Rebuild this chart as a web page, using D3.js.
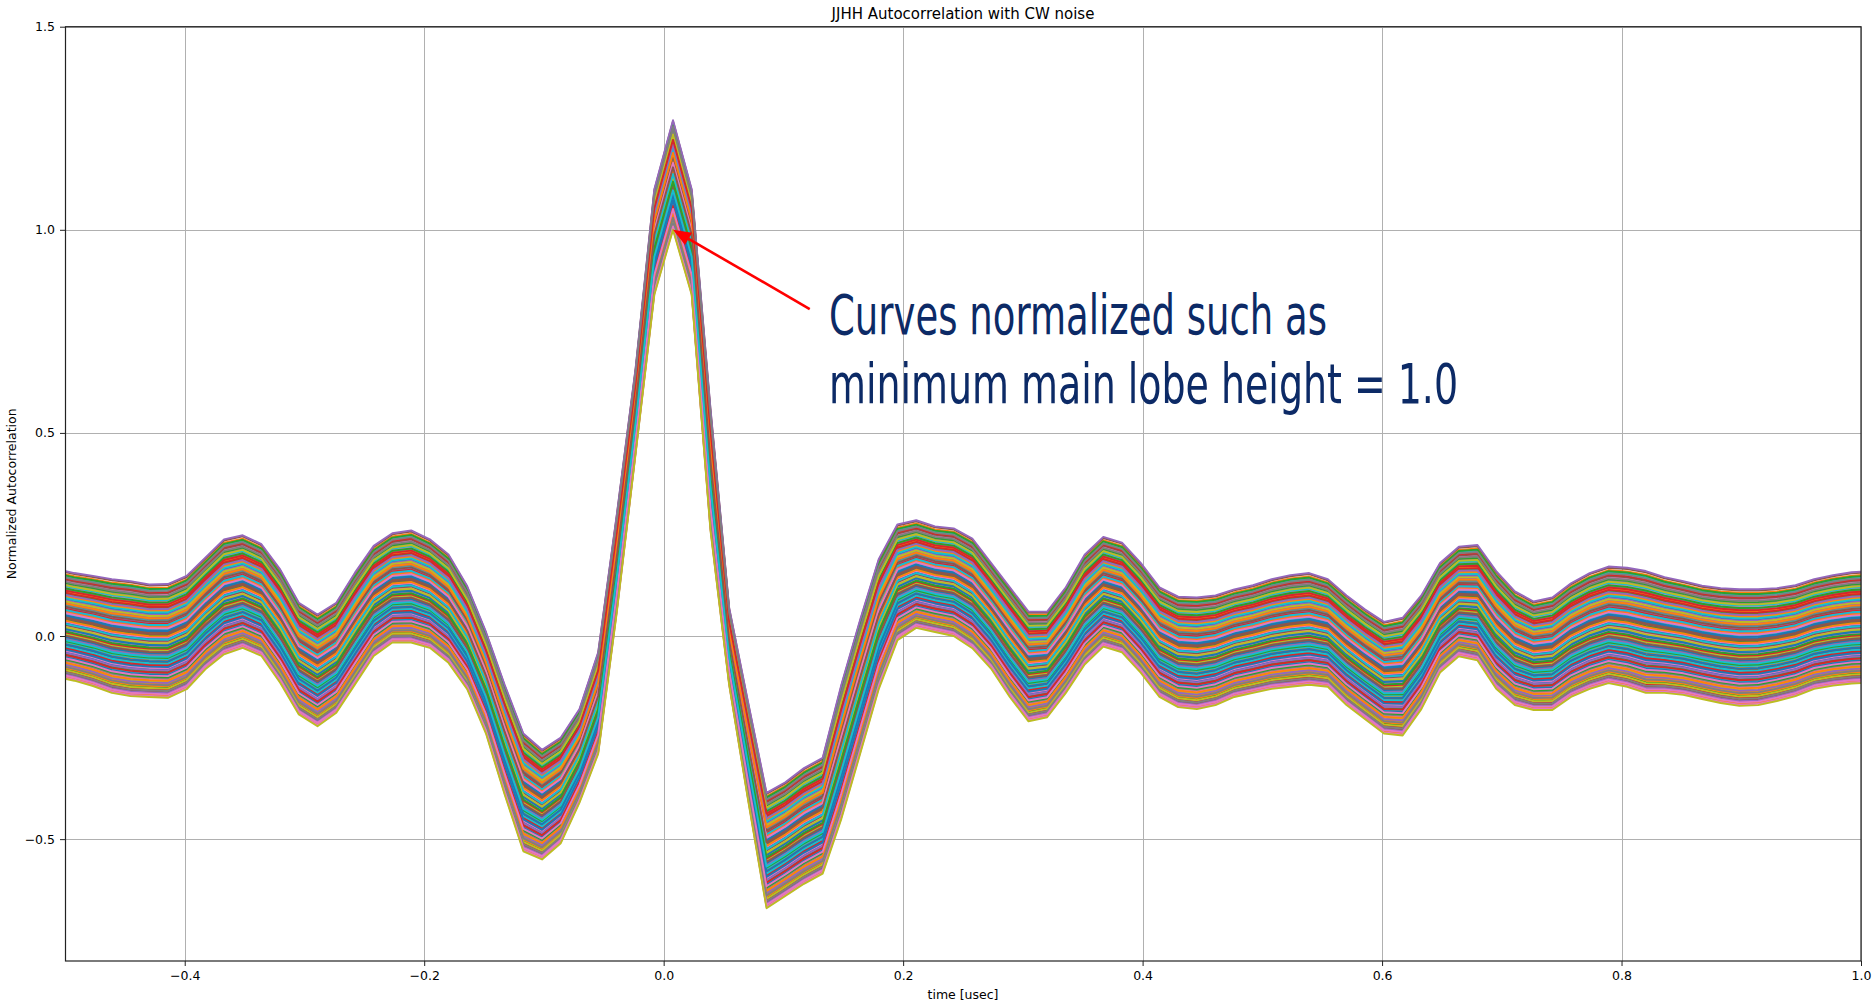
<!DOCTYPE html>
<html>
<head>
<meta charset="utf-8">
<script src="https://cdn.jsdelivr.net/npm/d3@7"></script>
<style>
  body { margin: 0; background: #ffffff; }
  svg { display: block; }
</style>
</head>
<body>
<svg id="chart" width="1876" height="1004"></svg>
<script>
// Sample instants of the autocorrelation (usec), 64 samples per usec
const sampleTimes = [
  -0.5078, -0.4922, -0.4766, -0.4609, -0.4453, -0.4297, -0.4141, -0.3984, -0.3828, -0.3672,
  -0.3516, -0.3359, -0.3203, -0.3047, -0.2891, -0.2734, -0.2578, -0.2422, -0.2266, -0.2109,
  -0.1953, -0.1797, -0.1641, -0.1484, -0.1328, -0.1172, -0.1016, -0.0859, -0.0703, -0.0547,
  -0.0391, -0.0234, -0.0078, 0.0078, 0.0234, 0.0391, 0.0547, 0.0703, 0.0859, 0.1016,
  0.1172, 0.1328, 0.1484, 0.1641, 0.1797, 0.1953, 0.2109, 0.2266, 0.2422, 0.2578,
  0.2734, 0.2891, 0.3047, 0.3203, 0.3359, 0.3516, 0.3672, 0.3828, 0.3984, 0.4141,
  0.4297, 0.4453, 0.4609, 0.4766, 0.4922, 0.5078, 0.5234, 0.5391, 0.5547, 0.5703,
  0.5859, 0.6016, 0.6172, 0.6328, 0.6484, 0.6641, 0.6797, 0.6953, 0.7109, 0.7266,
  0.7422, 0.7578, 0.7734, 0.7891, 0.8047, 0.8203, 0.8359, 0.8516, 0.8672, 0.8828,
  0.8984, 0.9141, 0.9297, 0.9453, 0.9609, 0.9766, 0.9922, 1.0078
];

// Highest normalized value reached by the family of curves at each sample
const bandTop = [
  0.165, 0.155, 0.148, 0.140, 0.135, 0.127, 0.128, 0.148, 0.193, 0.238,
  0.248, 0.226, 0.164, 0.082, 0.053, 0.082, 0.156, 0.222, 0.253, 0.260,
  0.238, 0.201, 0.123, 0.010, -0.120, -0.240, -0.280, -0.250, -0.180, -0.040,
  0.300, 0.660, 1.100, 1.270, 1.100, 0.560, 0.070, -0.160, -0.386, -0.360,
  -0.325, -0.300, -0.120, 0.040, 0.190, 0.275, 0.285, 0.270, 0.265, 0.240,
  0.180, 0.120, 0.060, 0.060, 0.120, 0.200, 0.244, 0.230, 0.180, 0.120,
  0.097, 0.095, 0.100, 0.115, 0.125, 0.140, 0.150, 0.155, 0.140, 0.100,
  0.065, 0.035, 0.045, 0.100, 0.180, 0.220, 0.224, 0.160, 0.110, 0.085,
  0.095, 0.130, 0.155, 0.171, 0.168, 0.160, 0.145, 0.135, 0.124, 0.118,
  0.115, 0.115, 0.118, 0.125, 0.140, 0.150, 0.157, 0.160
];

// Lowest normalized value reached by the family of curves at each sample
const bandBottom = [
  -0.100, -0.110, -0.123, -0.140, -0.148, -0.150, -0.152, -0.131, -0.082, -0.045,
  -0.029, -0.049, -0.115, -0.193, -0.222, -0.189, -0.119, -0.049, -0.016, -0.016,
  -0.029, -0.066, -0.131, -0.240, -0.390, -0.530, -0.550, -0.510, -0.410, -0.290,
  0.060, 0.450, 0.840, 1.000, 0.840, 0.260, -0.120, -0.400, -0.670, -0.640,
  -0.610, -0.585, -0.450, -0.290, -0.130, -0.010, 0.020, 0.010, 0.000, -0.030,
  -0.080, -0.150, -0.210, -0.200, -0.140, -0.070, -0.026, -0.040, -0.090, -0.150,
  -0.175, -0.180, -0.170, -0.150, -0.140, -0.130, -0.125, -0.120, -0.125, -0.170,
  -0.205, -0.240, -0.245, -0.180, -0.090, -0.050, -0.060, -0.130, -0.170, -0.182,
  -0.182, -0.150, -0.130, -0.116, -0.125, -0.140, -0.140, -0.145, -0.155, -0.165,
  -0.172, -0.170, -0.160, -0.148, -0.130, -0.122, -0.117, -0.115
];

// Relative position of each trace inside the band (0 = lowest, 1 = highest), in plotting order
const curveLevels = [
  0.47, 0.12, 0.83, 0.29, 0.66, 0.05, 0.91, 0.38, 0.57, 0.21,
  0.74, 0.33, 0.09, 0.61, 0.88, 0.44, 0.16, 0.70, 0.27, 0.95,
  0.52, 0.02, 0.79, 0.36, 0.63, 0.19, 0.85, 0.41, 0.11, 0.68,
  0.25, 0.97, 0.55, 0.07, 0.73, 0.31, 0.49, 0.87, 0.14, 0.60,
  0.39, 0.81, 0.23, 0.65, 0.04, 0.92, 0.45, 0.17, 0.76, 0.34,
  0.58, 0.10, 0.89, 0.28, 0.71, 0.50, 0.01, 0.83, 0.42, 0.64,
  0.20, 0.77, 0.35, 0.93, 0.13, 0.56, 0.26, 0.69, 0.08, 0.86,
  0.46, 0.62, 0.18, 0.80, 0.37, 0.99, 0.53, 0.06, 0.72, 0.30,
  0.59, 0.15, 0.84, 0.43, 0.24, 0.67, 0.03, 0.90, 0.48, 0.75,
  0.32, 0.54, 0.96, 0.22, 0.78, 0.40, 0.61, 0.11, 0.87, 0.51,
  0.27, 0.70, 0.44, 0.82, 1.00, 0.57, 0.19, 0.94, 0.00, 0.36
];

const xTicks = [-0.4, -0.2, 0.0, 0.2, 0.4, 0.6, 0.8, 1.0];
const yTicks = [-0.5, 0.0, 0.5, 1.0, 1.5];

const chartTitle = "JJHH Autocorrelation with CW noise";
const xLabel = "time [usec]";
const yLabel = "Normalized Autocorrelation";
const noteLines = ["Curves normalized such as", "minimum main lobe height = 1.0"];
const notePoint = { t: 0.0078, v: 1.0 };     // minimum main lobe peak
const noteTail = { t: 0.122, v: 0.805 };

// ---- layout ----
const W = 1876, H = 1004;
const plot = { left: 65, right: 1861, top: 26.7, bottom: 961 };
const tickFont = "'DejaVu Sans', 'Liberation Sans', sans-serif";

const svg = d3.select("#chart");

const x = d3.scaleLinear().domain([-0.5, 1.0]).range([plot.left, plot.right]);
const y = d3.scaleLinear().domain([-0.8, 1.5]).range([plot.bottom, plot.top]);

svg.append("rect").attr("width", W).attr("height", H).attr("fill", "#ffffff");

svg.append("defs").append("clipPath").attr("id", "plot-clip")
  .append("rect")
  .attr("x", plot.left).attr("y", plot.top)
  .attr("width", plot.right - plot.left).attr("height", plot.bottom - plot.top);

// grid
const grid = svg.append("g").attr("stroke", "#b0b0b0").attr("stroke-width", 1);
grid.selectAll("line.gx").data(xTicks).join("line")
  .attr("x1", d => Math.round(x(d)) + 0.5).attr("x2", d => Math.round(x(d)) + 0.5)
  .attr("y1", plot.top).attr("y2", plot.bottom);
grid.selectAll("line.gy").data(yTicks).join("line")
  .attr("y1", d => Math.round(y(d)) + 0.5).attr("y2", d => Math.round(y(d)) + 0.5)
  .attr("x1", plot.left).attr("x2", plot.right);

// traces
const traces = curveLevels.map(level =>
  sampleTimes.map((t, j) => [t, bandBottom[j] + level * (bandTop[j] - bandBottom[j])])
);
const colors = d3.schemeCategory10;
const line = d3.line().x(d => x(d[0])).y(d => y(d[1]));

svg.append("g").attr("clip-path", "url(#plot-clip)")
  .selectAll("path").data(traces).join("path")
  .attr("d", line)
  .attr("fill", "none")
  .attr("stroke", (d, i) => colors[i % 10])
  .attr("stroke-width", 1.9)
  .attr("stroke-linejoin", "round");

// frame
svg.append("rect")
  .attr("x", plot.left + 0.5).attr("y", plot.top)
  .attr("width", plot.right - plot.left - 0.5).attr("height", plot.bottom - plot.top)
  .attr("fill", "none").attr("stroke", "#222").attr("stroke-width", 1.2);

// axes
const fmt = d3.format(".1f");
const xAxis = svg.append("g").attr("transform", `translate(0,${plot.bottom})`)
  .call(d3.axisBottom(x).tickValues(xTicks).tickFormat(fmt).tickSize(5).tickPadding(5));
const yAxis = svg.append("g").attr("transform", `translate(${plot.left},0)`)
  .call(d3.axisLeft(y).tickValues(yTicks).tickFormat(fmt).tickSize(5).tickPadding(5));
[xAxis, yAxis].forEach(g => {
  g.select(".domain").remove();
  g.selectAll(".tick line").attr("stroke", "#222").attr("stroke-width", 1);
  g.selectAll(".tick text").attr("fill", "#000")
    .style("font-family", tickFont).style("font-size", "12.5px");
});

// titles
svg.append("text")
  .attr("x", (plot.left + plot.right) / 2).attr("y", 19)
  .attr("text-anchor", "middle")
  .style("font-family", tickFont).style("font-size", "15px")
  .text(chartTitle);

svg.append("text")
  .attr("x", (plot.left + plot.right) / 2).attr("y", 999)
  .attr("text-anchor", "middle")
  .style("font-family", tickFont).style("font-size", "12.5px")
  .text(xLabel);

svg.append("text")
  .attr("transform", `translate(16,${(plot.top + plot.bottom) / 2}) rotate(-90)`)
  .attr("text-anchor", "middle")
  .style("font-family", tickFont).style("font-size", "12.5px")
  .text(yLabel);

// annotation arrow
const tip = [x(notePoint.t), y(notePoint.v)];
const tail = [x(noteTail.t), y(noteTail.v)];
const ang = Math.atan2(tip[1] - tail[1], tip[0] - tail[0]);
const headLen = 18, headHalf = 7;
const base = [tip[0] - headLen * Math.cos(ang), tip[1] - headLen * Math.sin(ang)];
svg.append("line")
  .attr("x1", tail[0]).attr("y1", tail[1]).attr("x2", base[0]).attr("y2", base[1])
  .attr("stroke", "#ff0000").attr("stroke-width", 2.6);
svg.append("polygon")
  .attr("points", [
    tip,
    [base[0] + headHalf * Math.sin(ang), base[1] - headHalf * Math.cos(ang)],
    [base[0] - headHalf * Math.sin(ang), base[1] + headHalf * Math.cos(ang)]
  ].map(p => p.join(",")).join(" "))
  .attr("fill", "#ff0000");

// annotation text
const noteWidths = [498, 629];
const noteBaselines = [334, 403];
noteLines.forEach((s, i) => {
  svg.append("text")
    .attr("x", 829).attr("y", noteBaselines[i])
    .attr("textLength", noteWidths[i]).attr("lengthAdjust", "spacingAndGlyphs")
    .style("font-family", "'Liberation Sans Narrow', 'DejaVu Sans Condensed', 'Roboto', sans-serif")
    .style("font-size", "56px")
    .attr("fill", "#0c2a66")
    .text(s);
});
</script>
</body>
</html>
